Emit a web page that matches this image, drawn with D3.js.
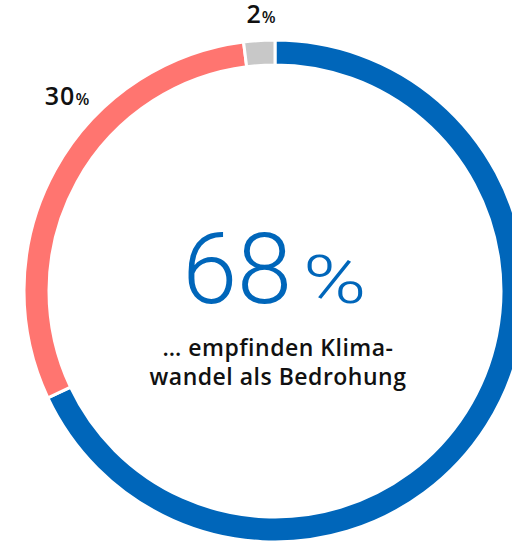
<!DOCTYPE html>
<html lang="de">
<head>
<meta charset="UTF-8">
<title>Klimawandel</title>
<script src="https://cdn.jsdelivr.net/npm/d3@7"></script>
<style>
  body { margin: 0; background: #fff; }
  svg { display: block; }
</style>
</head>
<body>
<svg width="512" height="544"></svg>
<script>
// data
var labels = ["Bedrohung", "keine Bedrohung", "weiß nicht"];
var values = [68, 30, 2];
var colors = ["#0066ba", "#ff7570", "#c8c8c8"];
var outerLabels = ["", "30", "2"];

var width = 512, height = 544;
var cx = 275, cy = 291;
var rOuter = 251, rInner = 226;

var svg = d3.select("svg").attr("width", width).attr("height", height);
var g = svg.append("g").attr("transform", "translate(" + cx + "," + cy + ")");

var pie = d3.pie().sort(null).value(function (d) { return d; });
var arc = d3.arc().innerRadius(rInner).outerRadius(rOuter);
var arcs = pie(values);

// ring
g.selectAll("path")
  .data(arcs)
  .enter()
  .append("path")
  .attr("d", arc)
  .attr("fill", function (d, i) { return colors[i]; })
  .attr("stroke", "#fff")
  .attr("stroke-width", 3);

// outer labels
var labelPos = [null, [-208, -186], [-14, -268]];
arcs.forEach(function (d, i) {
  if (!outerLabels[i]) return;
  var p = labelPos[i];
  var t = g.append("text")
    .attr("x", p[0]).attr("y", p[1])
    .attr("text-anchor", "middle")
    .attr("fill", "#111")
    .style("font-family", "'Open Sans', sans-serif")
    .style("font-weight", "600");
  t.append("tspan").style("font-size", "25px").style("letter-spacing", "1px").text(outerLabels[i]);
  t.append("tspan").style("font-size", "16px").text("%");
});

// center value
g.append("text")
  .attr("x", 17).attr("y", 12)
  .attr("text-anchor", "end")
  .attr("fill", colors[0])
  .style("font-family", "Roboto, 'Open Sans', sans-serif")
  .style("font-weight", "300")
  .style("font-size", "99px")
  .text(values[0]);

g.append("text")
  .attr("transform", "translate(28,12) scale(1.3,1)")
  .attr("fill", colors[0])
  .style("font-family", "Roboto, 'Open Sans', sans-serif")
  .style("font-weight", "300")
  .style("font-size", "66px")
  .text("%");

var sub = ["… empfinden Klima-", "wandel als Bedrohung"];
g.selectAll(".sub")
  .data(sub)
  .enter()
  .append("text")
  .attr("class", "sub")
  .attr("x", 3)
  .attr("y", function (d, i) { return 65 + i * 29; })
  .attr("text-anchor", "middle")
  .attr("fill", "#111")
  .style("font-family", "'Open Sans', sans-serif")
  .style("font-size", "23px")
  .style("font-weight", "600")
  .style("letter-spacing", "0.5px")
  .text(function (d) { return d; });
</script>
</body>
</html>
